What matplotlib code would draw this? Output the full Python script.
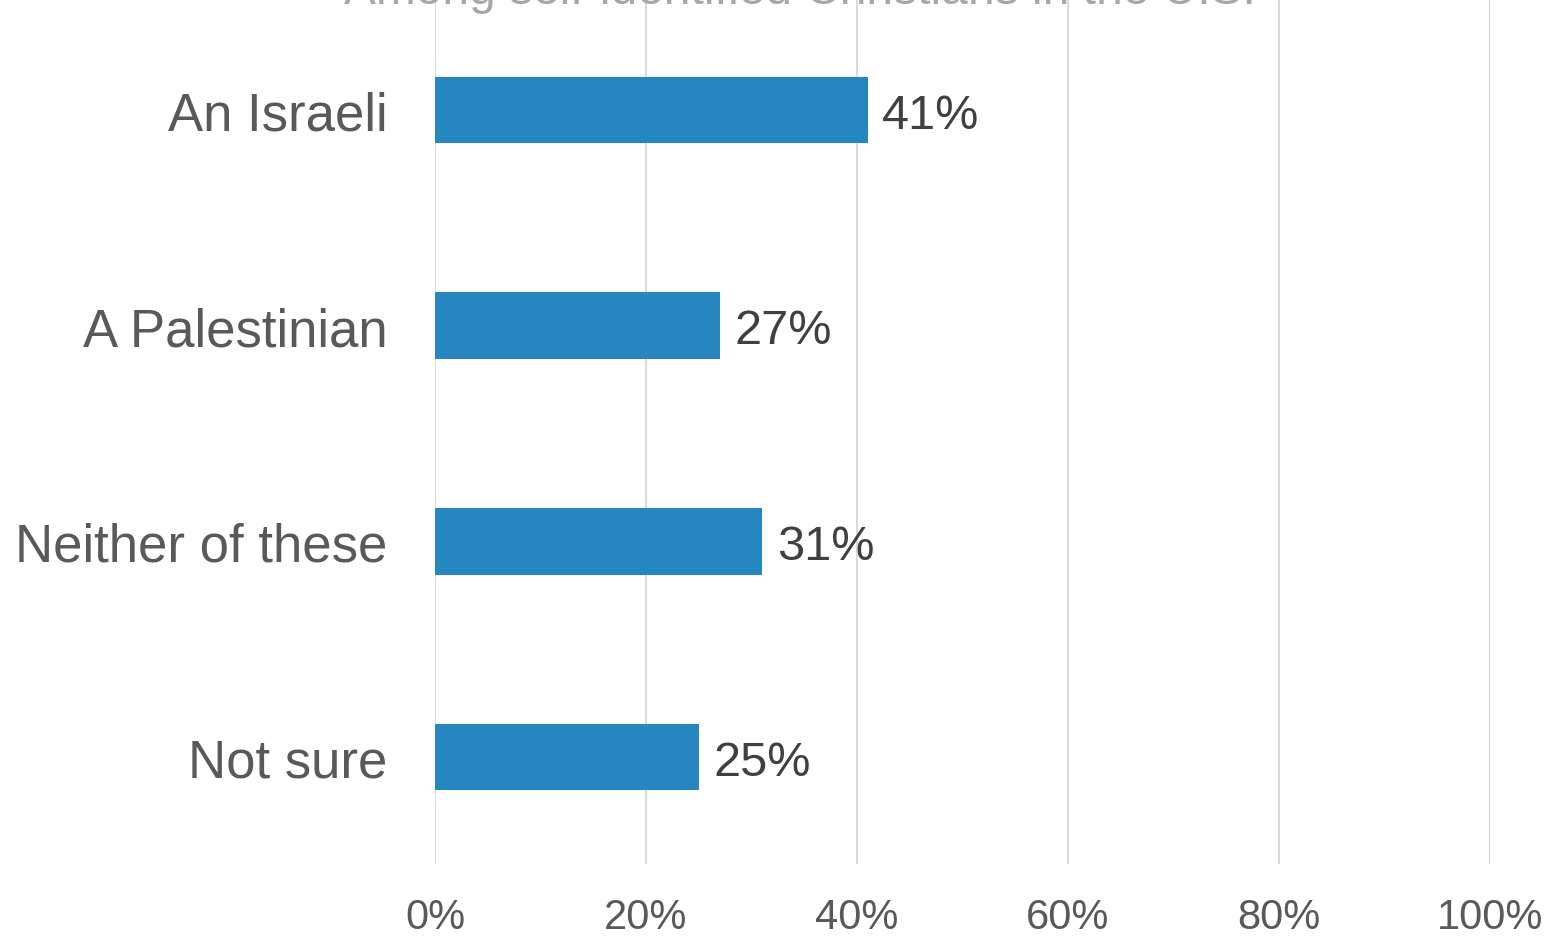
import matplotlib
matplotlib.use("Agg")
import matplotlib.pyplot as plt

categories = ["An Israeli", "A Palestinian", "Neither of these", "Not sure"]
values = [41, 27, 31, 25]
ticks = [0, 20, 40, 60, 80, 100]
tick_labels = ["0%", "20%", "40%", "60%", "80%", "100%"]
title = "Among self-identified Christians in the U.S."

plt.rcParams['font.family'] = ['Liberation Sans', 'DejaVu Sans']

fig = plt.figure(figsize=(15.57, 9.37), dpi=100)
ax = fig.add_axes([435 / 1557, 72 / 937, 1055 / 1557, 865 / 937])

pos = list(range(len(categories)))
ax.barh(pos, values, height=0.31, color="#2586C0", zorder=3)
for p, v in zip(pos, values):
    ax.text(v + 1.4, p, f"{v}%", va="center_baseline", ha="left", fontsize=35, color="#404040")

ax.set_xlim(0, 100)
ax.set_ylim(3.496, -0.515)
ax.set_yticks(pos)
ax.set_yticklabels(categories, fontsize=38, color="#595959")
ax.set_xticks(ticks)
ax.set_xticklabels(tick_labels, fontsize=30, color="#595959")
ax.tick_params(axis="y", length=0, pad=34)
ax.tick_params(axis="x", length=0, pad=24)
ax.grid(axis="x", color="#d9d9d9", linewidth=1.5, zorder=0)
for s in ax.spines.values():
    s.set_visible(False)

fig.text(800 / 1557, 1 - 4 / 937, title, ha="center", va="baseline", fontsize=34.5, color="#a6a6a6")

fig.savefig("out.png", dpi=100)
